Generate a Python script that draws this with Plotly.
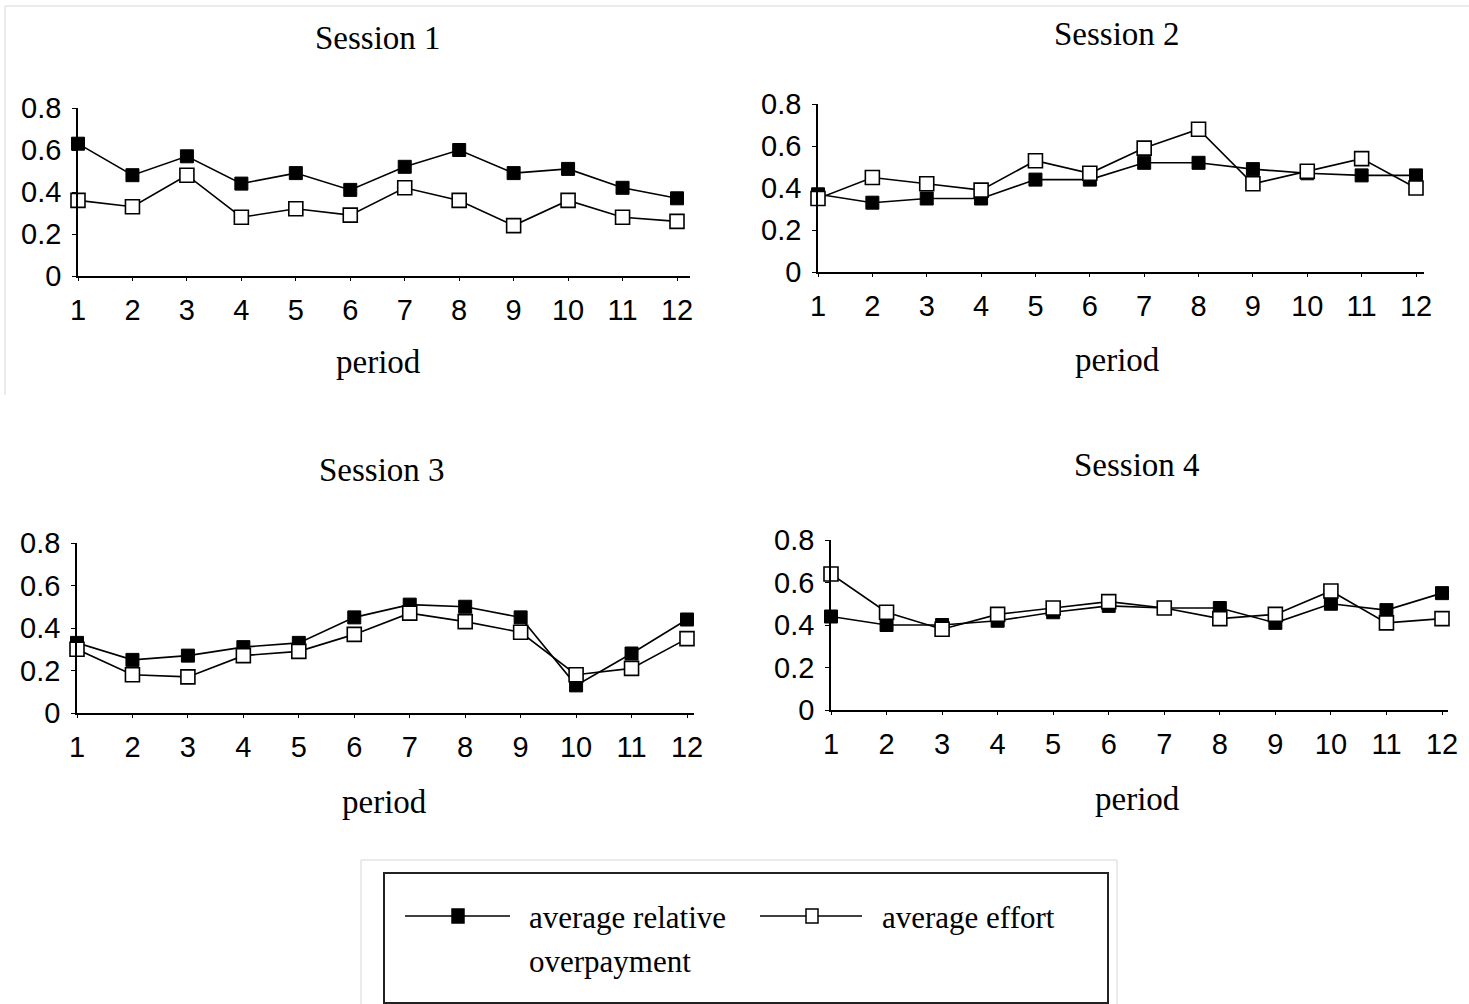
import plotly.graph_objects as go

W, H = 1469, 1004

periods = list(range(1, 13))
period_labels = [str(p) for p in periods]
y_ticks = [0, 0.2, 0.4, 0.6, 0.8]
y_tick_labels = ["0", "0.2", "0.4", "0.6", "0.8"]

session_titles = ["Session 1", "Session 2", "Session 3", "Session 4"]

overpay_s1 = [0.63, 0.48, 0.57, 0.44, 0.49, 0.41, 0.52, 0.60, 0.49, 0.51, 0.42, 0.37]
effort_s1 = [0.36, 0.33, 0.48, 0.28, 0.32, 0.29, 0.42, 0.36, 0.24, 0.36, 0.28, 0.26]

overpay_s2 = [0.37, 0.33, 0.35, 0.35, 0.44, 0.44, 0.52, 0.52, 0.49, 0.47, 0.46, 0.46]
effort_s2 = [0.35, 0.45, 0.42, 0.39, 0.53, 0.47, 0.59, 0.68, 0.42, 0.48, 0.54, 0.40]

overpay_s3 = [0.33, 0.25, 0.27, 0.31, 0.33, 0.45, 0.51, 0.50, 0.45, 0.13, 0.28, 0.44]
effort_s3 = [0.30, 0.18, 0.17, 0.27, 0.29, 0.37, 0.47, 0.43, 0.38, 0.18, 0.21, 0.35]

overpay_s4 = [0.44, 0.40, 0.40, 0.42, 0.46, 0.49, 0.48, 0.48, 0.41, 0.50, 0.47, 0.55]
effort_s4 = [0.64, 0.46, 0.38, 0.45, 0.48, 0.51, 0.48, 0.43, 0.45, 0.56, 0.41, 0.43]

overpay = [overpay_s1, overpay_s2, overpay_s3, overpay_s4]
effort = [effort_s1, effort_s2, effort_s3, effort_s4]

legend_labels = [["average relative", "overpayment"], ["average effort"]]

SANS = "Liberation Sans, Arial, sans-serif"
SERIF = "Liberation Serif, Times New Roman, serif"

# panel geometry in pixels: (x of period 1, x of period 12, right end of axis,
#                            y of 0, y of 0.8, title centre, "period" centre)
panels = [
    dict(x1=78, x12=677, xend=690, y0=276, y8=108, title=(378, 38), xlab=(378, 362)),
    dict(x1=818, x12=1416, xend=1424, y0=272, y8=104, title=(1117, 34), xlab=(1117, 360)),
    dict(x1=77, x12=687, xend=694, y0=713, y8=543, title=(382, 470), xlab=(384, 802)),
    dict(x1=831, x12=1442, xend=1448, y0=710, y8=540, title=(1137, 465), xlab=(1137, 799)),
]


def px(x):
    return x / W


def py(y):
    return 1 - y / H


fig = go.Figure()
layout = dict(
    template="none",
    width=W, height=H,
    autosize=False,
    margin=dict(l=0, r=0, t=0, b=0, pad=0, autoexpand=False),
    paper_bgcolor="white", plot_bgcolor="white",
    showlegend=False,
)
annotations = []
shapes = []

for i, p in enumerate(panels):
    n = "" if i == 0 else str(i + 1)
    dx = (p["x12"] - p["x1"]) / 11
    xmax = 1 + (p["xend"] - p["x1"]) / dx
    layout["xaxis" + n] = dict(
        domain=[px(p["x1"]), px(p["xend"])], range=[1, xmax],
        anchor="y" + n, tickvals=periods, ticktext=period_labels,
        showline=True, linecolor="black", linewidth=1.6,
        ticks="outside", ticklen=3, tickcolor="black", tickwidth=1,
        showgrid=False, zeroline=False, fixedrange=True, automargin=False,
        tickfont=dict(family=SANS, size=29, color="black"),
        ticklabelstandoff=4,
    )
    layout["yaxis" + n] = dict(
        domain=[py(p["y0"]), py(p["y8"])], range=[0, 0.8],
        anchor="x" + n, tickvals=y_ticks, ticktext=y_tick_labels,
        showline=True, linecolor="black", linewidth=1.6,
        ticks="outside", ticklen=4, tickcolor="black", tickwidth=1,
        showgrid=False, zeroline=False, fixedrange=True, automargin=False,
        tickfont=dict(family=SANS, size=29, color="black"),
        ticklabelstandoff=5,
    )
    fig.add_trace(go.Scatter(
        x=periods, y=overpay[i], mode="lines+markers",
        xaxis="x" + n, yaxis="y" + n, cliponaxis=False,
        line=dict(color="black", width=1.6),
        marker=dict(symbol="square", size=13, color="black",
                    line=dict(color="black", width=1)),
        name="average relative overpayment",
    ))
    fig.add_trace(go.Scatter(
        x=periods, y=effort[i], mode="lines+markers",
        xaxis="x" + n, yaxis="y" + n, cliponaxis=False,
        line=dict(color="black", width=1.6),
        marker=dict(symbol="square", size=14, color="white",
                    line=dict(color="black", width=1.6)),
        name="average effort",
    ))
    annotations.append(dict(
        x=px(p["title"][0]), y=py(p["title"][1]), xref="paper", yref="paper",
        text=session_titles[i], showarrow=False, xanchor="center", yanchor="middle",
        font=dict(family=SERIF, size=33, color="black"),
    ))
    annotations.append(dict(
        x=px(p["xlab"][0]), y=py(p["xlab"][1]), xref="paper", yref="paper",
        text="period", showarrow=False, xanchor="center", yanchor="middle",
        font=dict(family=SERIF, size=33, color="black"),
    ))

# faint frame of the scanned page
shapes.append(dict(type="line", xref="paper", yref="paper",
                   x0=px(5), x1=1, y0=py(6), y1=py(6),
                   line=dict(color="#e4e4e4", width=1.5)))
shapes.append(dict(type="line", xref="paper", yref="paper",
                   x0=px(5), x1=px(5), y0=py(6), y1=py(395),
                   line=dict(color="#e4e4e4", width=1.5)))

# legend box
shapes.append(dict(type="rect", xref="paper", yref="paper",
                   x0=px(361), x1=px(1117), y0=py(860), y1=py(1010),
                   line=dict(color="#d6d6d6", width=1)))
shapes.append(dict(type="rect", xref="paper", yref="paper",
                   x0=px(384), x1=px(1108), y0=py(873), y1=py(1003),
                   line=dict(color="#222222", width=2)))

# legend samples
legend_items = [
    dict(x0=405, x1=510, xm=458, fill="black", text_x=527),
    dict(x0=760, x1=862, xm=812, fill="white", text_x=880),
]
for item, lines in zip(legend_items, legend_labels):
    shapes.append(dict(type="line", xref="paper", yref="paper",
                       x0=px(item["x0"]), x1=px(item["x1"]), y0=py(916), y1=py(916),
                       line=dict(color="black", width=1.5)))
    shapes.append(dict(type="rect", xref="paper", yref="paper",
                       x0=px(item["xm"] - 6), x1=px(item["xm"] + 6),
                       y0=py(909), y1=py(923),
                       fillcolor=item["fill"], line=dict(color="black", width=1.5)))
    for k, line_text in enumerate(lines):
        annotations.append(dict(
            x=px(item["text_x"]), y=py(917 + 44 * k), xref="paper", yref="paper",
            text=line_text, showarrow=False, xanchor="left", yanchor="middle",
            font=dict(family=SERIF, size=31, color="black"),
        ))

layout["annotations"] = annotations
layout["shapes"] = shapes
fig.update_layout(**layout)

fig.write_html("out.html")
